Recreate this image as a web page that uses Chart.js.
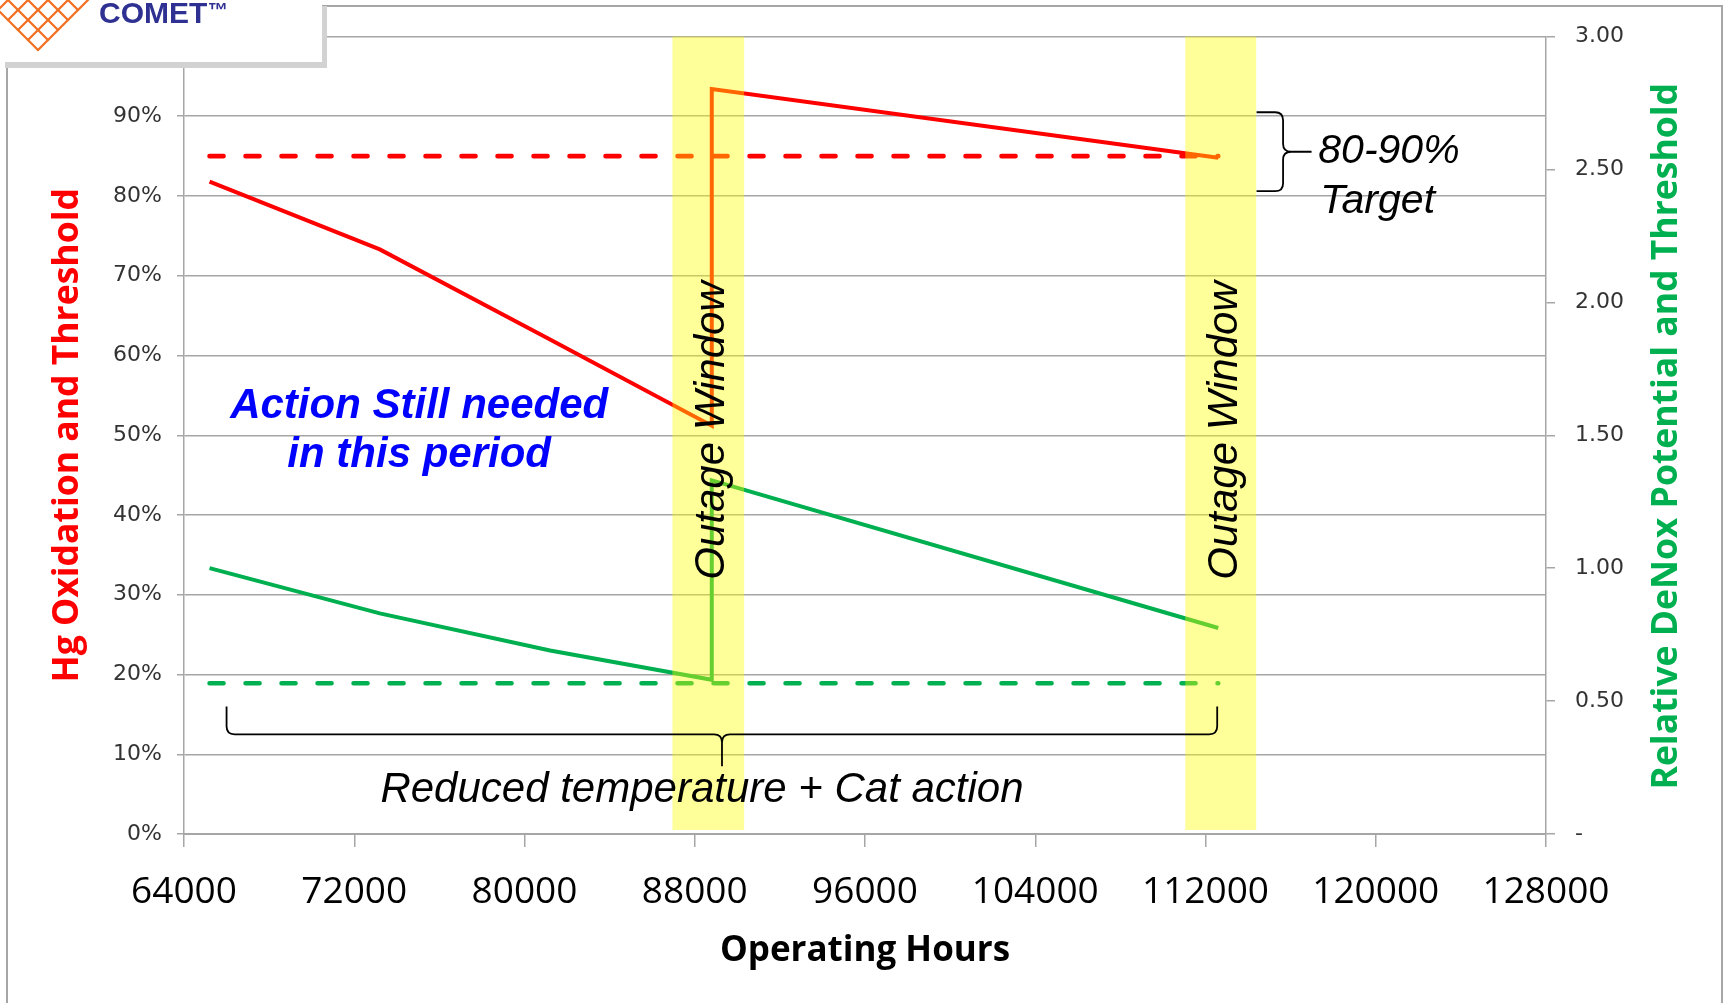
<!DOCTYPE html>
<html>
<head>
<meta charset="utf-8">
<title>Hg Oxidation and DeNox Potential vs Operating Hours</title>
<script src="https://cdn.jsdelivr.net/npm/chart.js@4.4.1/dist/chart.umd.min.js"></script>
<style>
  html, body { margin: 0; padding: 0; background: #fff; overflow: hidden; }
  #wrap { position: relative; width: 1729px; height: 1003px; }
  #frame { position: absolute; left: 6px; top: 5px; width: 1713px; height: 1100px; border: 2px solid #a6a6a6; }
  #chart { position: absolute; left: 0; top: 0; }
  #logo { position: absolute; left: 0; top: 0; width: 322px; height: 62px; background: #fff; box-shadow: 5px 6px 0 #d2d2d2; }
  #logo svg { display: block; }
</style>
</head>
<body>
<div id="wrap">
  <div id="frame"></div>
  <canvas id="chart" width="1729" height="1003"></canvas>
  <div id="logo">
    <svg width="322" height="62" viewBox="0 0 322 62">
      <g stroke="#F26F21" stroke-width="2.2" fill="none" stroke-linecap="round">
        <line x1="88" y1="0" x2="38" y2="50"/>
        <line x1="78" y1="-10" x2="28" y2="40"/>
        <line x1="68" y1="-20" x2="18" y2="30"/>
        <line x1="58" y1="-30" x2="8" y2="20"/>
        <line x1="48" y1="-40" x2="-2" y2="10"/>
        <line x1="-12" y1="0" x2="38" y2="50"/>
        <line x1="-2" y1="-10" x2="48" y2="40"/>
        <line x1="8" y1="-20" x2="58" y2="30"/>
        <line x1="18" y1="-30" x2="68" y2="20"/>
        <line x1="28" y1="-40" x2="78" y2="10"/>
      </g>
      <text x="99" y="23" font-family="Liberation Sans, Arial, sans-serif" font-weight="bold" font-size="30" fill="#2E3192">COMET</text>
      <text x="208" y="17" font-family="Liberation Sans, Arial, sans-serif" font-weight="bold" font-size="20" fill="#2E3192">™</text>
    </svg>
  </div>
</div>
<script>
// Operating hours at which the curves change slope (the repeated value is the outage step).
const hours = [65200, 73200, 81200, 88800, 88800, 112600];
// Hg oxidation, percent (left axis)
const hgOxidation = [81.8, 73.3, 62.0, 51.2, 93.4, 84.8];
// Relative DeNox potential (right axis)
const denoxPotential = [1.00, 0.83, 0.69, 0.58, 1.33, 0.775];

// Threshold lines
const thresholdHours = [65200, 112600];
const hgThreshold = [85, 85];
const denoxThreshold = [0.567, 0.567];

// Outage windows (operating hours)
const outageStart = [86950, 111050];
const outageEnd = [90320, 114380];

// Tick values
const xTicks = [64000, 72000, 80000, 88000, 96000, 104000, 112000, 120000, 128000];
const leftTicks = [0, 10, 20, 30, 40, 50, 60, 70, 80, 90, 100];
const rightTicks = [0, 0.5, 1.0, 1.5, 2.0, 2.5, 3.0];

const zip = (xs, ys) => xs.map((v, i) => ({ x: v, y: ys[i] }));

const RED = '#FF0000';
const GREEN = '#00B050';
const GRID = '#a6a6a6';

function braceRight(ctx, x0, yTop, yBot, spine, tip, r) {
  const xm = x0 + spine, ym = (yTop + yBot) / 2, xt = x0 + tip;
  ctx.beginPath();
  ctx.moveTo(x0, yTop);
  ctx.lineTo(xm - r, yTop);
  ctx.quadraticCurveTo(xm, yTop, xm, yTop + r);
  ctx.lineTo(xm, ym - r);
  ctx.quadraticCurveTo(xm, ym, xm + r, ym);
  ctx.lineTo(xt, ym);
  ctx.moveTo(xm + r, ym);
  ctx.quadraticCurveTo(xm, ym, xm, ym + r);
  ctx.lineTo(xm, yBot - r);
  ctx.quadraticCurveTo(xm, yBot, xm - r, yBot);
  ctx.lineTo(x0, yBot);
  ctx.stroke();
}

function braceDown(ctx, xL, xR, xt, yTop, yH, yTip, r) {
  ctx.beginPath();
  ctx.moveTo(xL, yTop);
  ctx.lineTo(xL, yH - r);
  ctx.quadraticCurveTo(xL, yH, xL + r, yH);
  ctx.lineTo(xt - r, yH);
  ctx.quadraticCurveTo(xt, yH, xt, yH + r);
  ctx.lineTo(xt, yTip);
  ctx.moveTo(xR, yTop);
  ctx.lineTo(xR, yH - r);
  ctx.quadraticCurveTo(xR, yH, xR - r, yH);
  ctx.lineTo(xt + r, yH);
  ctx.quadraticCurveTo(xt, yH, xt, yH + r);
  ctx.stroke();
}

const overlays = {
  id: 'overlays',
  afterDatasetsDraw(chart) {
    const { ctx, scales: { x, y } } = chart;
    ctx.save();

    // Outage windows: translucent yellow over the curves
    ctx.fillStyle = 'rgba(255,255,0,0.4)';
    const yt = y.getPixelForValue(100), yb = y.getPixelForValue(0.5);
    outageStart.forEach((s, i) => {
      const x0 = x.getPixelForValue(s), x1 = x.getPixelForValue(outageEnd[i]);
      ctx.fillRect(x0, yt, x1 - x0, yb - yt);
    });

    // Vertical "Outage Window" labels
    ctx.fillStyle = '#000';
    ctx.font = 'italic 42px "Liberation Sans", Arial, sans-serif';
    ctx.textAlign = 'center';
    ctx.textBaseline = 'alphabetic';
    outageStart.forEach((s, i) => {
      const cx = (x.getPixelForValue(s) + x.getPixelForValue(outageEnd[i])) / 2;
      ctx.save();
      ctx.translate(cx + 16, y.getPixelForValue(50.6));
      ctx.rotate(-Math.PI / 2);
      ctx.fillText('Outage Window', 0, 0);
      ctx.restore();
    });

    // Blue note
    ctx.fillStyle = '#0000FF';
    ctx.font = 'bold italic 42px "Liberation Sans", Arial, sans-serif';
    ctx.textAlign = 'center';
    const nx = x.getPixelForValue(75050);
    ctx.fillText('Action Still needed', nx, y.getPixelForValue(52.2));
    ctx.fillText('in this period', nx, y.getPixelForValue(46.0));

    // Target bracket
    ctx.strokeStyle = '#000';
    ctx.lineWidth = 1.8;
    braceRight(ctx, x.getPixelForValue(114400), y.getPixelForValue(90.5), y.getPixelForValue(80.6), 26.5, 55, 8);
    ctx.fillStyle = '#000';
    ctx.font = 'italic 41px "Liberation Sans", Arial, sans-serif';
    ctx.textAlign = 'left';
    const tx = x.getPixelForValue(117300);
    ctx.fillText('80-90%', tx, y.getPixelForValue(84.2));
    ctx.fillText('Target', tx + 2, y.getPixelForValue(77.9));

    // Bottom bracket and caption
    braceDown(ctx, x.getPixelForValue(66000), x.getPixelForValue(112550), x.getPixelForValue(89280),
      y.getPixelForValue(16), y.getPixelForValue(12.5), y.getPixelForValue(8.5), 8);
    ctx.font = 'italic 42px "Liberation Sans", Arial, sans-serif';
    ctx.textAlign = 'center';
    ctx.fillText('Reduced temperature + Cat action', x.getPixelForValue(88340), y.getPixelForValue(4.0));

    ctx.restore();
  },
  afterDraw(chart) {
    // Right axis title reads bottom-to-top
    const { ctx, chartArea } = chart;
    ctx.save();
    ctx.translate(chart.scales.y1.right - 62, (chartArea.top + chartArea.bottom) / 2 + 1);
    ctx.rotate(-Math.PI / 2);
    ctx.fillStyle = GREEN;
    ctx.font = 'bold 35.5px "Open Sans", sans-serif';
    ctx.textAlign = 'center';
    ctx.textBaseline = 'middle';
    ctx.fillText('Relative DeNox Potential and Threshold', 0, 0);
    ctx.restore();
  }
};

const tickFont = { family: 'DejaVu Sans', size: 22 };

new Chart(document.getElementById('chart'), {
  type: 'line',
  data: {
    datasets: [
      { label: 'Hg Oxidation', data: zip(hours, hgOxidation), yAxisID: 'y',
        borderColor: RED, borderWidth: 4 },
      { label: 'Hg Threshold', data: zip(thresholdHours, hgThreshold), yAxisID: 'y',
        borderColor: RED, borderWidth: 4.6, borderDash: [14, 22], borderCapStyle: 'round' },
      { label: 'DeNox Potential', data: zip(hours, denoxPotential), yAxisID: 'y1',
        borderColor: GREEN, borderWidth: 4 },
      { label: 'DeNox Threshold', data: zip(thresholdHours, denoxThreshold), yAxisID: 'y1',
        borderColor: GREEN, borderWidth: 4.6, borderDash: [14, 22], borderCapStyle: 'round' }
    ]
  },
  options: {
    responsive: false,
    animation: false,
    events: [],
    layout: { padding: { top: 36.5, left: 0, right: 0, bottom: 0 } },
    plugins: { legend: { display: false }, tooltip: { enabled: false } },
    elements: {
      point: { radius: 0 },
      line: { tension: 0, borderJoinStyle: 'miter', fill: false }
    },
    scales: {
      x: {
        type: 'linear',
        min: 64000, max: 128000,
        afterFit: s => { s.height = 169; },
        afterBuildTicks: s => { s.ticks = xTicks.map(v => ({ value: v })); },
        border: { display: true, color: GRID, width: 2 },
        grid: { drawOnChartArea: false, drawTicks: true, tickLength: 13, color: GRID, lineWidth: 1.5 },
        ticks: {
          autoSkip: false, maxRotation: 0, minRotation: 0, padding: 23,
          color: '#000', font: { family: 'Open Sans', size: 37 },
          callback: v => String(v)
        },
        title: {
          display: true, text: 'Operating Hours', color: '#000',
          font: { family: 'Open Sans', size: 35, weight: 'bold' },
          padding: { top: 0, bottom: 31 }
        }
      },
      y: {
        position: 'left',
        min: 0, max: 100,
        afterFit: s => { s.width = 184; },
        afterBuildTicks: s => { s.ticks = leftTicks.map(v => ({ value: v })); },
        border: { display: true, color: GRID, width: 1.5 },
        grid: { color: GRID, lineWidth: 1.5, tickLength: 7, drawTicks: true },
        ticks: {
          padding: 15, color: '#333333', font: tickFont,
          callback: v => (v === 100 ? '' : v + '%')
        },
        title: {
          display: true, text: 'Hg Oxidation and Threshold', color: RED,
          font: { family: 'Open Sans', size: 35.5, weight: 'bold' },
          padding: { top: 47, bottom: 0 }
        }
      },
      y1: {
        position: 'right',
        min: 0, max: 3,
        afterFit: s => { s.width = 183; },
        afterBuildTicks: s => { s.ticks = rightTicks.map(v => ({ value: v })); },
        border: { display: true, color: GRID, width: 1.5 },
        grid: { drawOnChartArea: false, drawTicks: true, tickLength: 9, color: GRID, lineWidth: 1.5 },
        ticks: {
          padding: 20, color: '#333333', font: tickFont,
          callback: v => (v === 0 ? '-' : v.toFixed(2))
        }
      }
    }
  },
  plugins: [overlays]
});
</script>
</body>
</html>
